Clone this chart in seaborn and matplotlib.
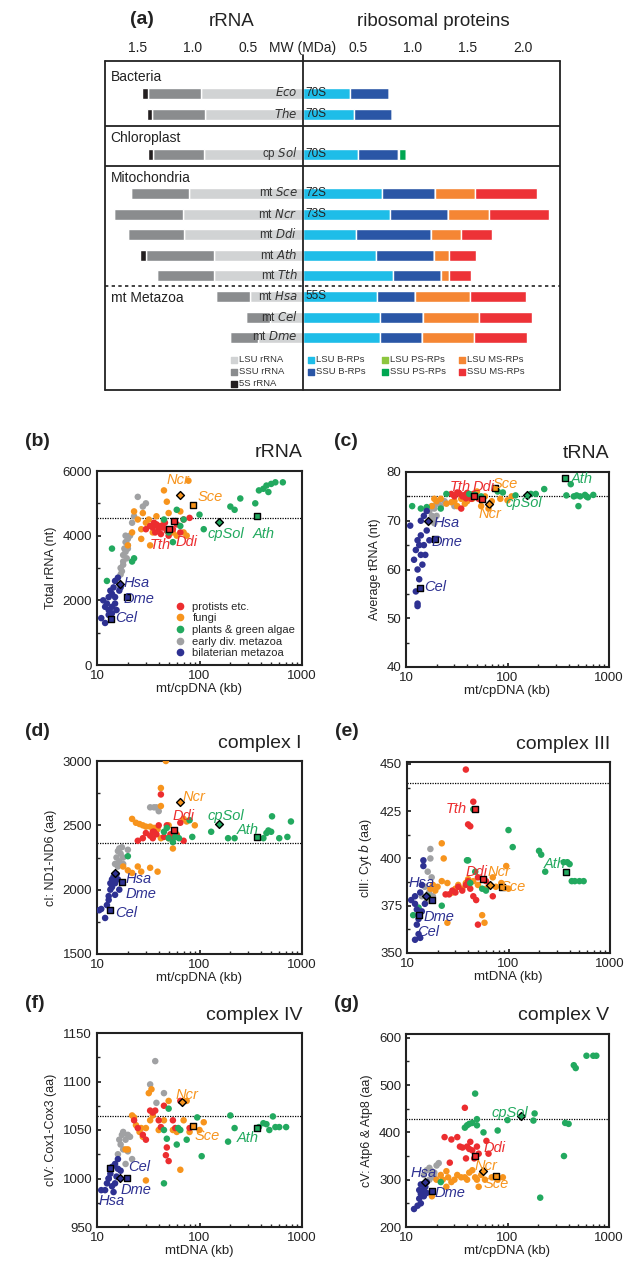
import matplotlib
matplotlib.use("Agg")
import matplotlib.pyplot as plt
import seaborn as sns
import pandas as pd
import numpy as np
from matplotlib.ticker import AutoMinorLocator
from matplotlib.lines import Line2D

sns.set_theme(style="white")
plt.rcParams['font.family'] = ['Arial', 'Liberation Sans', 'DejaVu Sans']

# ---------------- Panel (a) data (MDa) ----------------
species = ["Eco", "The", "cp Sol", "mt Sce", "mt Ncr", "mt Ddi", "mt Ath", "mt Tth", "mt Hsa", "mt Cel", "mt Dme"]
svalue = ["70S", "70S", "70S", "72S", "73S", "", "", "", "55S", "", ""]
lsu_rrna = [0.925, 0.89, 0.90, 1.04, 1.09, 1.08, 0.81, 0.81, 0.48, 0.30, 0.41]
ssu_rrna = [0.485, 0.485, 0.46, 0.52, 0.63, 0.51, 0.62, 0.52, 0.31, 0.22, 0.25]
s5_rrna = [0.05, 0.045, 0.05, 0, 0, 0, 0.05, 0, 0, 0, 0]
lsu_b = [0.43, 0.46, 0.50, 0.72, 0.79, 0.48, 0.66, 0.82, 0.67, 0.70, 0.70]
ssu_b = [0.35, 0.35, 0.36, 0.48, 0.53, 0.68, 0.53, 0.43, 0.35, 0.39, 0.38]
lsu_ps = [0, 0, 0.01, 0, 0, 0, 0, 0, 0, 0, 0]
ssu_ps = [0, 0, 0.07, 0, 0, 0, 0, 0, 0, 0, 0]
lsu_ms = [0, 0, 0, 0.36, 0.37, 0.28, 0.14, 0.08, 0.50, 0.51, 0.47]
ssu_ms = [0, 0, 0, 0.57, 0.55, 0.28, 0.24, 0.20, 0.51, 0.48, 0.49]
row_px = [93, 114, 154, 193, 214, 234, 255, 275, 296, 317, 337]

# ---------------- Scatter data (kb, value) ----------------
B_BIL = [(11,1450),(11.5,2000),(12,1300),(12.5,1900),(13,1700),(13,2100),(13.5,2300),(14,1800),(14,2200),(14.5,2400),(15,2100),(15,2600),(15.5,1700),(16,2700),(16.5,2300),(17,2400),(14,1600),(13,1550),(12,1800),(15,1900)]
B_EAR = [(17,2800),(17,3000),(18,3200),(18,3400),(18.5,3600),(19,3800),(19,3500),(20,3700),(20,3900),(19.5,3300),(18,3100),(17.5,2900),(21,4000),(22,4400),(25,5200),(28,4900),(30,5000),(23,4600),(20,3600),(19,4000)]
B_FUN = [(20,3700),(22,4100),(23,4750),(25,4500),(27,4200),(28,4700),(30,4400),(32,4500),(35,4100),(38,4600),(40,4300),(45,5400),(48,5050),(50,4700),(55,4100),(60,4000),(65,4750),(70,4100),(75,4000),(78,5700),(27,3900),(33,3700),(45,4450)]
B_PRO = [(30,4200),(33,4300),(35,4250),(37,4100),(38,4350),(40,4200),(42,4300),(44,4250),(46,4400),(48,4150),(50,4000),(55,4200),(60,4350),(65,4100),(70,4500),(80,4550),(36,4400),(42,4050)]
B_PLA = [(14,3600),(12.5,2600),(22,3200),(23,3300),(45,4500),(50,4100),(55,3800),(60,4800),(65,4300),(70,4500),(100,4650),(110,4200),(200,4900),(220,4800),(250,5150),(350,5000),(380,5400),(420,5450),(450,5550),(470,5350),(500,5600),(550,5650),(650,5650)]

C_BIL = [(11,69),(12,62),(12.5,64),(13,66),(13,60),(13.5,58),(12.5,55.5),(13,52.5),(13,53),(14,63),(14,67),(14.5,61),(15,65),(15,71),(16,68),(16,72),(17,66),(15.5,63),(14,70),(13.5,65)]
C_EAR = [(17,72),(18,71),(18,73),(19,72.5),(20,71),(20,73.5),(21,74),(22,73),(24,74),(18.5,70),(19,69.5),(30,73)]
C_FUN = [(18,73),(19,74.5),(20,74),(22,74.5),(25,73.5),(28,73.8),(30,74),(32,73),(35,74.5),(38,73.5),(40,74),(45,74.5),(50,76),(55,73),(60,75),(65,72.5),(70,74),(85,74.5),(100,74.2),(110,75)]
C_PRO = [(28,75.5),(30,75),(32,75.8),(34,75.5),(36,75),(38,75.3),(40,75.7),(42,75),(44,74.5),(46,75.5),(48,75.2),(35,72.5),(52,74.5),(39,74.6)]
C_PLA = [(11.5,73),(14,72.5),(16,72.8),(22,72.5),(25,75.5),(42,75.5),(48,75.3),(55,75),(80,76),(90,75.8),(120,75.2),(170,75.5),(190,75.5),(230,76.5),(380,75.2),(420,77.5),(450,75),(480,75.2),(500,73),(520,75),(580,75.3),(600,75),(620,74.8),(700,75.3)]

D_BIL = [(10.5,1840),(11,1850),(12,1780),(12.5,1880),(13,1950),(13.5,2000),(13.5,2050),(14,2080),(14.5,2100),(15,2050),(15.5,2120),(16,2080),(16.5,2000),(13,1920),(14,2020),(15,1960)]
D_EAR = [(15,2200),(15.5,2250),(16,2300),(16.5,2220),(17,2280),(17.5,2330),(18,2250),(16,2180),(18,2200),(17,2200),(20,2310),(33,2640),(36,2640),(38,2640),(40,2610),(16.5,2320)]
D_FUN = [(18,2180),(20,2150),(22,2130),(25,2180),(27,2140),(33,2170),(39,2140),(22,2550),(24,2520),(26,2510),(28,2500),(30,2490),(33,2490),(36,2480),(39,2470),(42,2790),(42,2650),(47,3000),(50,2400),(55,2320),(60,2430),(70,2550),(75,2530),(90,2500),(42,2400),(50,2500)]
D_PRO = [(25,2380),(28,2400),(30,2440),(33,2420),(35,2400),(36,2450),(38,2430),(40,2500),(42,2740),(45,2410),(48,2500),(52,2430),(55,2400),(60,2420),(65,2520),(70,2380),(35,2450)]
D_PLA = [(20,2260),(45,2450),(48,2480),(50,2400),(55,2370),(58,2410),(63,2400),(80,2540),(85,2410),(130,2450),(190,2400),(220,2400),(420,2400),(450,2440),(470,2460),(500,2450),(510,2570),(600,2400),(720,2410),(780,2530)]

E_BIL = [(11,378),(12,380),(12,376),(12.5,373),(13,370),(13,368),(13.5,382),(14,386),(14.5,399),(14.5,396),(15,376),(13,360),(12,357),(13.5,358),(12.5,365),(14,372)]
E_EAR = [(14,380),(15,385),(16,393),(16,378),(17,405),(17,400),(16.5,382),(18,380),(17.5,390),(15.5,377)]
E_FUN = [(17,384),(18,386),(19,383),(20,385),(22,408),(23,400),(22,388),(25,387),(25,366),(28,382),(30,384),(32,386),(35,384),(38,387),(40,389),(45,388),(50,386),(55,370),(58,366),(60,384),(70,390),(85,387),(95,396),(100,384),(75,385)]
E_PRO = [(24,381),(26,381),(28,383),(30,382),(32,385),(35,383),(38,386),(40,388),(42,384),(40,418),(42,417),(38,447),(45,430),(45,380),(50,365),(60,388),(70,380),(50,390),(48,378)]
E_PLA = [(11.5,370),(13,374),(16,380),(22,375),(39,399),(40,399),(42,387),(45,426),(47,393),(55,384),(60,383),(100,415),(110,406),(200,404),(210,402),(230,393),(350,398),(380,398),(400,397),(420,388),(450,388),(500,388),(550,388)]

F_BIL = [(11,988),(12,988),(12.5,995),(13,1000),(13.5,1005),(14,1012),(14,992),(15,995),(15.5,1002),(16,1010),(16,1020),(17,1008),(14.5,986),(13,1000),(15,1015)]
F_EAR = [(16,1025),(17,1035),(17.5,1045),(18,1048),(18,1030),(19,1040),(19,1015),(20,1045),(21,1043),(22,1020),(33,1097),(37,1121),(38,1078),(45,1088),(16.5,1040),(20,1028)]
F_FUN = [(19,1030),(20,1030),(22,1065),(23,1063),(24,1055),(26,1048),(27,1052),(28,1043),(30,1052),(32,1088),(34,1092),(33,1060),(35,1065),(40,1050),(45,1060),(50,1080),(55,1050),(60,1048),(65,1009),(70,1060),(75,1080),(80,1048),(100,1050),(110,1058),(30,998)]
F_PRO = [(23,1060),(25,1052),(28,1045),(30,1040),(33,1070),(35,1068),(37,1070),(40,1060),(45,1075),(47,1024),(50,1018),(48,1032),(55,1060),(58,1052),(65,1080),(80,1052),(42,1053)]
F_PLA = [(45,995),(45,1050),(48,1041),(50,1072),(60,1035),(62,1052),(65,1050),(75,1040),(95,1063),(105,1023),(190,1038),(200,1065),(220,1052),(380,1053),(420,1057),(450,1056),(480,1050),(520,1064),(550,1053),(600,1053),(700,1053)]

G_BIL = [(12,238),(13,245),(13.5,260),(14,250),(14,270),(14.5,275),(15,280),(15.5,285),(16,272),(14,290),(13.5,278),(15,265),(16,295)]
G_EAR = [(15,310),(16,320),(17,325),(18,318),(19,315),(20,330),(21,335),(19,305),(17,300),(18,310)]
G_FUN = [(18,265),(20,300),(22,310),(23,300),(25,285),(26,305),(28,295),(30,300),(32,310),(35,305),(38,305),(40,300),(42,315),(45,320),(48,305),(50,300),(52,285),(55,310),(60,300),(70,305),(80,300),(90,305),(25,318)]
G_PRO = [(24,390),(27,336),(28,385),(32,390),(34,370),(36,368),(38,452),(39,345),(40,370),(42,365),(43,380),(45,362),(47,345),(50,370),(52,355),(62,382),(65,355)]
G_PLA = [(22,295),(38,410),(40,415),(42,418),(45,420),(48,482),(50,428),(50,415),(58,400),(80,404),(100,426),(185,440),(180,425),(210,262),(360,350),(370,420),(400,418),(450,542),(470,536),(600,562),(700,562),(750,562)]

# highlighted species: (name, group, marker, x, y)
B_HL = [("Hsa","bil","D",16.6,2500),("Dme","bil","s",19.5,2100),("Cel","bil","s",13.8,1430),("Sce","fun","s",86,4950),("Ncr","fun","D",65,5250),("Ddi","pro","s",56,4450),("Tth","pro","s",50,4200),("Ath","pla","s",367,4600),("cpSol","pla","D",155,4420)]
C_HL = [("Hsa","bil","D",16.6,70),("Dme","bil","s",19.5,66.3),("Cel","bil","s",13.8,56.3),("Sce","fun","s",76,76.7),("Ncr","fun","D",65,73.4),("Ddi","pro","s",56,74.5),("Tth","pro","s",47,75),("Ath","pla","s",367,78.8),("cpSol","pla","D",155,75.3)]
D_HL = [("Hsa","bil","D",15,2130),("Dme","bil","s",17.5,2060),("Cel","bil","s",13.5,1840),("Ncr","fun","D",65,2680),("Ddi","pro","s",56,2460),("Ath","pla","s",367,2410),("cpSol","pla","D",155,2510)]
E_HL = [("Hsa","bil","D",15.5,380),("Dme","bil","s",17.5,378),("Cel","bil","s",13,370),("Tth","pro","s",47,426),("Ddi","pro","s",56,389),("Ncr","fun","D",65,386),("Sce","fun","s",86,385),("Ath","pla","s",367,393)]
F_HL = [("Cel","bil","s",13.5,1011),("Hsa","bil","D",16.6,1001),("Dme","bil","s",19.5,1001),("Ncr","fun","D",67,1079),("Sce","fun","s",86,1054),("Ath","pla","s",367,1052)]
G_HL = [("Hsa","bil","D",15.5,295),("Dme","bil","s",18,277),("Ddi","pro","s",48,350),("Ncr","fun","D",57,318),("Sce","fun","s",77,307),("cpSol","pla","D",135,434)]

# labels: (text, group, x, y)
B_LAB = [("Ncr","fun",48,5720),("Sce","fun",95,5200),("Tth","pro",33,3700),("Ddi","pro",58,3800),("cpSol","pla",120,4050),("Ath","pla",330,4050),("Hsa","bil",18,2550),("Dme","bil",18,2050),("Cel","bil",15,1450)]
C_LAB = [("Tth","pro",27,76.9),("Ddi","pro",45,76.9),("Sce","fun",72,77.6),("Ath","pla",420,78.6),("Ncr","fun",52,71.3),("cpSol","pla",95,73.6),("Hsa","bil",18.5,69.6),("Dme","bil",18,65.7),("Cel","bil",15,56.5)]
D_LAB = [("Ncr","fun",68,2720),("Ddi","pro",54,2570),("cpSol","pla",120,2570),("Ath","pla",230,2460),("Hsa","bil",19,2080),("Dme","bil",19,1965),("Cel","bil",15,1820)]
E_LAB = [("Tth","pro",24,426),("Ddi","pro",38,393),("Ncr","fun",62,393),("Sce","fun",84,385),("Ath","pla",220,397),("Hsa","bil",10.3,387),("Dme","bil",14.5,369),("Cel","bil",12.5,361)]
F_LAB = [("Ncr","fun",58,1086),("Sce","fun",90,1044),("Ath","pla",230,1042),("Cel","bil",20,1012),("Dme","bil",17,988),("Hsa","bil",10.3,977)]
G_LAB = [("cpSol","pla",70,442),("Ddi","pro",58,368),("Ncr","fun",47,328),("Sce","fun",58,290),("Hsa","bil",11,315),("Dme","bil",19,272)]

PAL = {"pro": "#ec2d2f", "fun": "#f7941d", "pla": "#22a95f", "ear": "#a0a1a3", "bil": "#2e3192"}
LEG = [("pro", "protists etc."), ("fun", "fungi"), ("pla", "plants & green algae"),
       ("ear", "early div. metazoa"), ("bil", "bilaterian metazoa")]

W, H = 629, 1265
fig = plt.figure(figsize=(W/100, H/100), dpi=100)

def rect(l, t, r, b):
    return [l/W, 1 - b/H, (r-l)/W, (b-t)/H]

# ---------------- Panel (a) ----------------
SC = 110.0
axA = fig.add_axes(rect(105, 61, 560, 390))
axA.set_xlim(-(303-105)/SC, (560-303)/SC)
axA.set_ylim(390, 61)
axA.axis("off")
bh = 11
rr = pd.DataFrame({"sp": species, "y": row_px, "lsu": lsu_rrna, "ssu": ssu_rrna, "s5": s5_rrna})
axA.barh(rr.y, -rr.lsu, height=bh, color="#d1d3d4")
axA.barh(rr.y, -rr.ssu, left=-rr.lsu, height=bh, color="#8a8c8e")
axA.barh(rr.y, -rr.s5, left=-(rr.lsu+rr.ssu), height=bh, color="#231f20")
left = np.zeros(len(species))
for vals, col in [(lsu_b, "#1ebde8"), (ssu_b, "#2a56a6"), (lsu_ps, "#8dc63f"), (ssu_ps, "#00a651"),
                  (lsu_ms, "#f58634"), (ssu_ms, "#ed3237")]:
    axA.barh(row_px, vals, left=left, height=bh, color=col)
    left = left + np.array(vals)
for sp, y, s in zip(species, row_px, svalue):
    parts = sp.split(" ")
    if len(parts) == 2:
        lab = parts[0] + " $\\mathit{" + parts[1] + "}$"
    else:
        lab = "$\\mathit{" + sp + "}$"
    axA.text(-0.05, y, lab, ha="right", va="center", fontsize=8.5, color="#333333")
    if s:
        axA.text(0.02, y, s, ha="left", va="center", fontsize=8.5, color="#222222")
xl = axA.get_xlim()
lw = 1.3
axA.plot(xl, [61, 61], color="#222", lw=lw, clip_on=False)
axA.plot(xl, [390, 390], color="#222", lw=lw, clip_on=False)
axA.plot([xl[0], xl[0]], [61, 390], color="#222", lw=lw, clip_on=False)
axA.plot([xl[1], xl[1]], [61, 390], color="#222", lw=lw, clip_on=False)
axA.plot([0, 0], [55, 390], color="#222", lw=lw, clip_on=False)
axA.plot(xl, [126, 126], color="#222", lw=lw)
axA.plot(xl, [166, 166], color="#222", lw=lw)
axA.plot(xl, [286, 286], color="#222", lw=1.2, ls=(0, (2, 2)))
for t, y in [("Bacteria", 77), ("Chloroplast", 138), ("Mitochondria", 178), ("mt Metazoa", 298)]:
    axA.text(xl[0] + 0.05, y, t, ha="left", va="center", fontsize=10, color="#222")
for v in [1.5, 1.0, 0.5]:
    axA.text(-v, 48, f"{v:.1f}", ha="center", va="center", fontsize=10, color="#222")
for v in [0.5, 1.0, 1.5, 2.0]:
    axA.text(v, 48, f"{v:.1f}", ha="center", va="center", fontsize=10, color="#222")
axA.text(0, 48, "MW (MDa)", ha="center", va="center", fontsize=10, color="#222")
axA.text((232-303)/SC, 22, "rRNA", ha="center", va="center", fontsize=13.5, color="#222")
axA.text((433-303)/SC, 22, "ribosomal proteins", ha="center", va="center", fontsize=13.5, color="#222")
axA.text((142-303)/SC, 20, "(a)", ha="center", va="center", fontsize=14, fontweight="bold", color="#222")
leg_items = [(234, 360, "#d1d3d4", "LSU rRNA"), (234, 372, "#8a8c8e", "SSU rRNA"), (234, 384, "#231f20", "5S rRNA"),
             (311, 360, "#1ebde8", "LSU B-RPs"), (311, 372, "#2a56a6", "SSU B-RPs"),
             (385, 360, "#8dc63f", "LSU PS-RPs"), (385, 372, "#00a651", "SSU PS-RPs"),
             (462, 360, "#f58634", "LSU MS-RPs"), (462, 372, "#ed3237", "SSU MS-RPs")]
for px, py, c, t in leg_items:
    axA.scatter([(px-303)/SC], [py], marker="s", s=16, color=c)
    axA.text((px+5-303)/SC, py, t, ha="left", va="center", fontsize=6.8, color="#333")

# ---------------- Scatter panels ----------------
def scatter_panel(letter, title, box, lists, hl, labels, ylim, yticks, ylabel, xlabel, hline, legend=False):
    ax = fig.add_axes(rect(*box))
    rows = []
    for g, pts in zip(["ear", "fun", "pro", "pla", "bil"], lists):
        for x, y in pts:
            rows.append((x, y, g))
    df = pd.DataFrame(rows, columns=["x", "y", "g"])
    sns.scatterplot(data=df, x="x", y="y", hue="g", palette=PAL, s=22, linewidth=0, ax=ax, legend=False, zorder=3)
    for name, g, m, x, y in hl:
        ax.scatter([x], [y], marker=m, s=22 if m == "s" else 16, color=PAL[g], edgecolor="black", linewidth=1.0, zorder=5)
    for t, g, x, y in labels:
        ax.text(x, y, t, color=PAL[g], fontsize=10.5, style="italic", ha="left", va="center", zorder=6)
    ax.axhline(hline, color="black", lw=0.9, ls=(0, (1, 1)), zorder=2)
    ax.set_xscale("log")
    ax.set_xlim(10, 1000)
    ax.set_ylim(*ylim)
    ax.set_yticks(yticks)
    ax.set_xticks([10, 100, 1000])
    ax.set_xticklabels(["10", "100", "1000"])
    ax.tick_params(axis="both", which="major", labelsize=9.5, direction="in", length=3, colors="#222")
    ax.tick_params(axis="x", which="minor", direction="in", length=2, bottom=True)
    ax.tick_params(axis="x", which="major", bottom=True)
    ax.tick_params(axis="y", left=True)
    ax.yaxis.set_minor_locator(AutoMinorLocator(2))
    ax.tick_params(axis="y", which="minor", direction="in", length=2, left=True)
    for s in ax.spines.values():
        s.set_linewidth(1.5)
        s.set_color("#222")
    ax.set_ylabel(ylabel, fontsize=9, color="#222")
    ax.set_xlabel(xlabel, fontsize=9.5, color="#222", labelpad=1)
    l, t, r, b = box
    fig.text(r/W, 1 - (t-18)/H, title, ha="right", va="center", fontsize=14, color="#222")
    fig.text((l-72)/W, 1 - (t-30)/H, f"({letter})", ha="left", va="center", fontsize=14, fontweight="bold", color="#222")
    if legend:
        hs = [Line2D([], [], marker="o", ls="", color=PAL[k], markersize=4.5) for k, _ in LEG]
        ax.legend(hs, [v for _, v in LEG], loc="lower right", frameon=False, fontsize=8,
                  handletextpad=0.1, labelspacing=0.15, borderaxespad=0.2)
    return ax

scatter_panel("b", "rRNA", (97, 471, 302, 665), [B_EAR, B_FUN, B_PRO, B_PLA, B_BIL], B_HL, B_LAB,
              (0, 6000), [0, 2000, 4000, 6000], "Total rRNA (nt)", "mt/cpDNA (kb)", 4550, legend=True)
scatter_panel("c", "tRNA", (406, 472, 609, 667), [C_EAR, C_FUN, C_PRO, C_PLA, C_BIL], C_HL, C_LAB,
              (40, 80), [40, 50, 60, 70, 80], "Average tRNA (nt)", "mt/cpDNA (kb)", 75)
scatter_panel("d", "complex I", (97, 761, 302, 954), [D_EAR, D_FUN, D_PRO, D_PLA, D_BIL], D_HL, D_LAB,
              (1500, 3000), [1500, 2000, 2500, 3000], "cI: ND1-ND6 (aa)", "mt/cpDNA (kb)", 2360)
scatter_panel("e", "complex III", (407, 762, 610, 953), [E_EAR, E_FUN, E_PRO, E_PLA, E_BIL], E_HL, E_LAB,
              (350, 451), [350, 375, 400, 425, 450], "cIII: Cyt $\\mathit{b}$ (aa)", "mtDNA (kb)", 440)
scatter_panel("f", "complex IV", (97, 1033, 302, 1227), [F_EAR, F_FUN, F_PRO, F_PLA, F_BIL], F_HL, F_LAB,
              (950, 1150), [950, 1000, 1050, 1100, 1150], "cIV: Cox1-Cox3 (aa)", "mtDNA (kb)", 1064)
scatter_panel("g", "complex V", (406, 1034, 609, 1227), [G_EAR, G_FUN, G_PRO, G_PLA, G_BIL], G_HL, G_LAB,
              (200, 608), [200, 300, 400, 500, 600], "cV: Atp6 & Atp8 (aa)", "mt/cpDNA (kb)", 428)

fig.savefig("out.png", dpi=100, facecolor="white")
